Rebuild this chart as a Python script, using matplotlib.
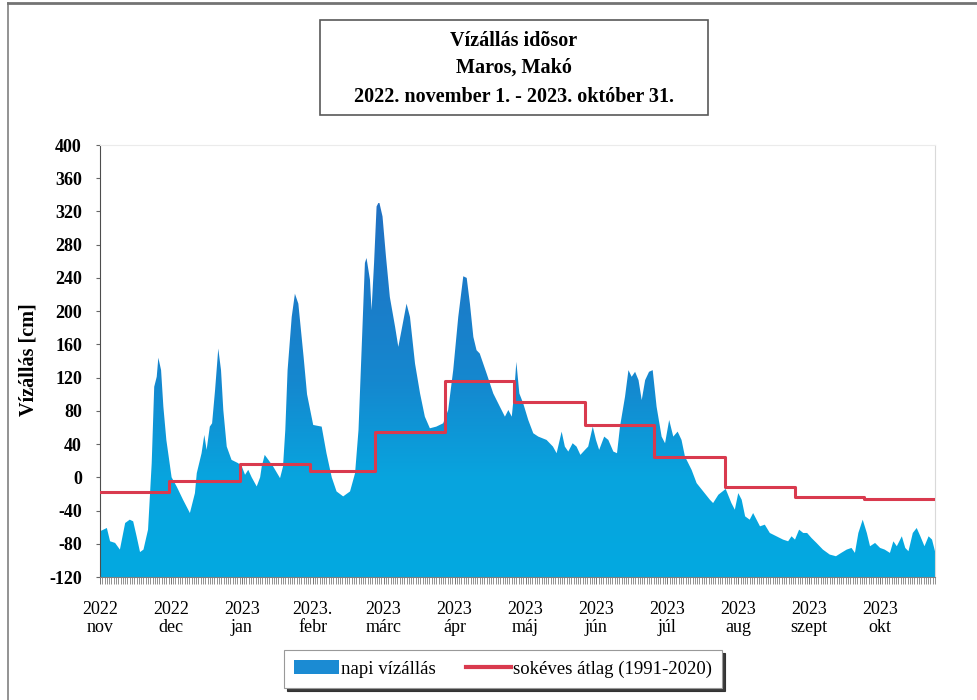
import datetime as dt
import numpy as np
import matplotlib
matplotlib.use("Agg")
import matplotlib.pyplot as plt
import matplotlib.dates as mdates
from matplotlib.colors import LinearSegmentedColormap
from matplotlib.patches import PathPatch, Patch, Rectangle
from matplotlib.lines import Line2D

plt.rcParams['font.family'] = ['Liberation Serif', 'DejaVu Serif']

# napi vízállás (cm), napok 2022. nov 1-tõl
napok = [0, 3, 4.4, 6.6, 8.7, 11, 13, 14.5, 16, 17.5, 19, 21, 22.6, 23.7, 24.8,
         25.5, 26.7, 27.7, 29, 31.3, 33.5, 36.3, 39.3, 41.5, 42.3, 44.4, 45.6,
         46.6, 48, 49, 50.3, 51.7, 52.9, 53.9, 55.4, 57.5, 60.4, 62, 63.4, 64.8,
         66.3, 68.5, 70, 70.7, 72, 73.6, 75.7, 78.7, 80, 81, 82, 83.8, 85.2,
         86.7, 89, 90.5, 93.2, 96.9, 99, 101.3, 103.4, 106.3, 109.3, 111.5, 113,
         114.4, 115.8, 116.5, 118, 118.7, 119.8, 120.9, 122, 123.5, 125, 126.7,
         129, 130.4, 131.8, 134, 135.5, 137.7, 139.9, 142, 144.2, 147, 150,
         152.2, 154.4, 156.6, 158.8, 160.3, 161.7, 163.2, 164.6, 166, 169,
         171.9, 174.8, 177, 178.5, 180, 181, 182, 183.3, 185, 187.2, 189.4,
         191.6, 195.2, 198, 199.6, 201.8, 203.2, 204.7, 206.6, 208.3, 210, 212,
         213.4, 215.4, 216.8, 218.2, 220.4, 222.2, 224.4, 226, 227.3, 229.5,
         231, 232.4, 233.9, 235.4, 236.8, 238.3, 240, 241.6, 243.3, 245.5, 247,
         248.8, 250.6, 252.5, 254.2, 255.7, 258.6, 260.8, 263.7, 266.6, 268,
         270.3, 273.5, 276, 277.5, 279, 280.5, 282, 284, 285.5, 287, 288.5,
         290.6, 292.8, 295.7, 298.6, 300.8, 302.3, 303.8, 305.6, 307.4, 309.1,
         311, 313.2, 316, 319, 321.7, 324, 326.4, 328.5, 330, 331.5, 333.4,
         335.2, 336.6, 338.8, 341, 343, 345.3, 346.8, 348.3, 350.5, 352, 353.4,
         355.3, 357, 358.6, 360.4, 362.2, 363.7, 365]
vizallas = [-65, -61, -77, -79, -87, -55, -51, -53, -71, -90, -87, -63, 17, 109,
            121, 144, 129, 85, 45, 0, -11, -27, -43, -19, 5, 29, 51, 33, 61, 65,
            105, 155, 129, 81, 37, 21, 17, 13, 3, 9, 0, -11, 0, 13, 27, 21, 13,
            -1, 13, 57, 129, 193, 221, 209, 145, 100, 63, 61, 29, 0, -17, -23,
            -17, 5, 57, 157, 258, 264, 238, 201, 258, 326, 332, 314, 266, 217,
            181, 157, 177, 209, 193, 137, 101, 73, 59, 61, 65, 81, 129, 193, 242,
            240, 209, 169, 153, 149, 125, 101, 85, 73, 81, 73, 101, 139, 101, 89,
            69, 53, 49, 45, 37, 29, 55, 37, 31, 41, 37, 27, 33, 37, 61, 45, 33,
            49, 45, 31, 29, 61, 97, 129, 121, 127, 117, 93, 117, 127, 129, 85,
            49, 41, 69, 49, 55, 45, 25, 9, -7, -17, -27, -31, -21, -14, -31, -39,
            -19, -27, -47, -51, -43, -51, -59, -57, -67, -71, -75, -77, -71, -75,
            -63, -67, -67, -73, -79, -87, -93, -95, -91, -87, -85, -91, -67, -51,
            -67, -83, -79, -85, -87, -91, -77, -83, -71, -85, -89, -67, -61, -71,
            -83, -71, -75, -89]

# sokéves havi átlag (1991-2020)
honap_kezdet = [dt.date(2022, 11, 1), dt.date(2022, 12, 1), dt.date(2023, 1, 1),
                dt.date(2023, 2, 1), dt.date(2023, 3, 1), dt.date(2023, 4, 1),
                dt.date(2023, 5, 1), dt.date(2023, 6, 1), dt.date(2023, 7, 1),
                dt.date(2023, 8, 1), dt.date(2023, 9, 1), dt.date(2023, 10, 1)]
atlag = [-18, -4, 16, 8, 55, 116, 91, 63, 24, -12, -24, -26]

tick_labels = ["2022\nnov", "2022\ndec", "2023\njan", "2023.\nfebr", "2023\nmárc",
               "2023\nápr", "2023\nmáj", "2023\njún", "2023\njúl", "2023\naug",
               "2023\nszept", "2023\nokt"]

start = mdates.date2num(dt.date(2022, 11, 1))
end = start + 365
x = start + np.array(napok)

fig = plt.figure(figsize=(9.77, 7.0), dpi=100)
ax = fig.add_axes([100/977, 1-577/700, 835/977, 432/700])

# kék terület függõleges színátmenettel
fill = ax.fill_between(x, vizallas, -120, color='none', lw=0)
clip = PathPatch(fill.get_paths()[0], transform=ax.transData,
                 facecolor='none', edgecolor='none')
ax.add_patch(clip)
cmap = LinearSegmentedColormap.from_list(
    'viz', [(0.0, '#03a9e1'), (0.27, '#08a4de'), (0.52, '#1588cf'), (1.0, '#2170c2')])
grad = np.linspace(0, 1, 256).reshape(-1, 1)
im = ax.imshow(grad, extent=[start, end, -120, 330], origin='lower', aspect='auto',
               cmap=cmap, zorder=1)
im.set_clip_path(clip)

# sokéves átlag lépcsõs vonal
xs = list(mdates.date2num(honap_kezdet)) + [end]
ys = atlag + [atlag[-1]]
ax.step(xs, ys, where='post', color='#d93a4e', lw=2.2, zorder=3)

ax.set_xlim(start, end)
ax.set_ylim(-120, 400)
ax.set_yticks(np.arange(-120, 401, 40))
ax.set_yticklabels([str(v) for v in range(-120, 401, 40)], fontweight='bold', fontsize=13)
ax.set_xticks(start + np.arange(12) * 31)
ax.set_xticklabels(tick_labels, fontsize=13, linespacing=1.1)
ax.set_xticks(start + np.arange(0, 366), minor=True)
ax.tick_params(axis='y', length=3, width=0.8, color='0.4', pad=10)
ax.tick_params(axis='x', which='major', length=5, width=0.7, color='0.45', pad=12)
ax.tick_params(axis='x', which='minor', length=5, width=0.6, color='0.5')

ax.spines['left'].set_color('0.3')
ax.spines['bottom'].set_color('0.5')
ax.spines['top'].set_color('0.92')
ax.spines['right'].set_color('0.85')

fig.text(28/977, 1-360/700, "Vízállás [cm]", rotation=90, ha='center', va='center',
         fontsize=14.5, fontweight='bold')

# cím doboz
fig.patches.append(Rectangle((320/977, 1-115/700), 388/977, 95/700, transform=fig.transFigure,
                             facecolor='white', edgecolor='0.35', lw=1.2))
for yy, txt in [(41, "Vízállás idõsor"), (68, "Maros, Makó"),
                (97, "2022. november 1. - 2023. október 31.")]:
    fig.text(514/977, 1-yy/700, txt, ha='center', va='center', fontsize=14.5, fontweight='bold')

# külsõ keret
fig.add_artist(Line2D([8/977, 8/977], [0, 1-3/700], color='0.5', lw=1.2))
fig.add_artist(Line2D([8/977, 1], [1-3/700, 1-3/700], color='0.45', lw=2))

handles = [Patch(facecolor='#1b8bd3', edgecolor='none'),
           Line2D([], [], color='#d93a4e', lw=3)]
leg = fig.legend(handles, ["napi vízállás", "sokéves átlag (1991-2020)"],
                 loc='center', bbox_to_anchor=(503/977, 1-669/700), ncol=2,
                 fontsize=13.5, frameon=True, fancybox=False, handlelength=2.4,
                 handletextpad=0.1, columnspacing=1.6, borderpad=0.55, borderaxespad=0,
                 shadow={'color': '0.15', 'alpha': 0.9})
leg.get_frame().set_edgecolor('0.6')
leg.get_frame().set_linewidth(0.8)

fig.savefig("out.png", dpi=100)
